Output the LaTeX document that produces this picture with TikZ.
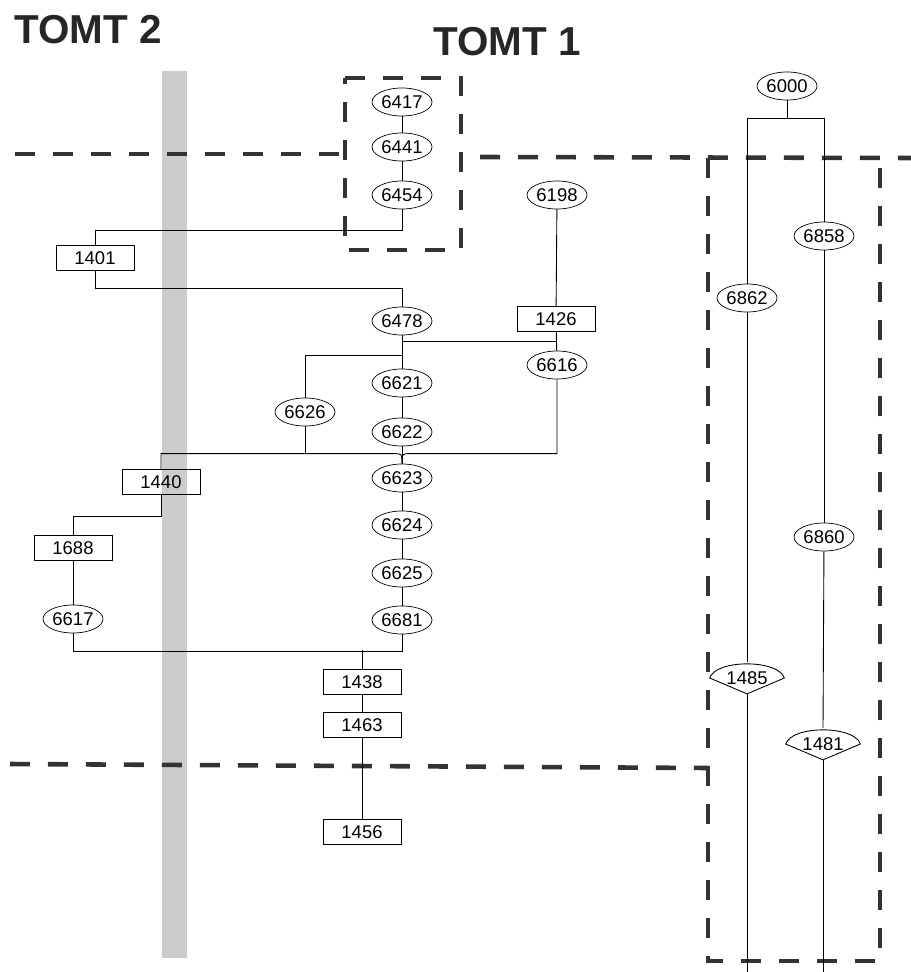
\documentclass[tikz,border=0pt]{standalone}
\usepackage{fontspec}
\setmainfont{Liberation Sans}
\usetikzlibrary{shapes.geometric,calc}

\begin{document}
\begin{tikzpicture}[x=0.02cm,y=-0.02cm,
  oval/.style={draw,ellipse,inner sep=0pt,minimum width=1.2cm,minimum height=0.56cm,font=\fontsize{10.5}{12}\selectfont},
  box/.style={draw,rectangle,inner sep=0pt,minimum width=1.56cm,minimum height=0.5cm,font=\fontsize{10.5}{12}\selectfont},
  fan/.style={inner sep=0pt,minimum width=1.48cm,minimum height=0.62cm,font=\fontsize{10.5}{12}\selectfont},
  bound/.style={line width=2.6pt,draw=black!80,dash pattern=on 0.4cm off 0.36cm},
  link/.style={line width=0.5pt},
  title/.style={font=\fontsize{23}{26}\selectfont\bfseries,text=black!85}]
\useasboundingbox (0,0) rectangle (911,972);
% stippled band
\fill[black!20] (162,71) rectangle (187,958);
\node[title] (t2) at (88,30) {TOMT 2};
\node[title] (t1) at (507,42) {TOMT 1};
% boundaries
\draw[bound] (15,154) -- (345,154);
\draw[bound] (345,78) -- (461,78) -- (461,250) -- (345,250) -- cycle;
\draw[bound] (480,157) -- (911,158);
\draw[bound] (708,158) -- (708,961) -- (880,961) -- (880,158);
\draw[bound] (10,764) -- (708,768);
% TOMT 1
\node[oval] (o6417) at (402,102) {6417};
\node[oval] (o6441) at (402,147) {6441};
\node[oval] (o6454) at (402,195) {6454};
\node[box] (b1401) at (95,258) {1401};
\node[oval] (o6198) at (557,195) {6198};
\node[oval] (o6478) at (402,321) {6478};
\node[box] (b1426) at (556,319) {1426};
\node[oval] (o6616) at (557,365) {6616};
\node[oval] (o6621) at (402,383) {6621};
\node[oval] (o6626) at (305,412) {6626};
\node[oval] (o6622) at (402,432) {6622};
\node[oval] (o6623) at (402,478) {6623};
\node[box] (b1440) at (161,482) {1440};
\node[oval] (o6624) at (402,525) {6624};
\node[box] (b1688) at (73,548) {1688};
\node[oval] (o6625) at (402,573) {6625};
\node[oval] (o6617) at (73,619) {6617};
\node[oval] (o6681) at (402,620) {6681};
\node[box] (b1438) at (362,682) {1438};
\node[box] (b1463) at (362,725) {1463};
\node[box] (b1456) at (362,832) {1456};
\coordinate (m) at ($(o6623.north)+(0,-10)$);
\begin{scope}[link]
\draw (o6417) -- (o6441);
\draw (o6441) -- (o6454);
\draw (o6454.south) -- ++(0,21) -| (b1401.north);
\draw (b1401.south) -- ++(0,18) -| (o6478.north);
\draw (o6198) -- (b1426);
\draw (o6478) -- (o6621);
\draw (b1426) -- (o6616);
\draw (b1426.south) ++(0,10) -| (o6478.south);
\draw (o6621.north) ++(0,-13) -| (o6626.north);
\draw (o6621) -- (o6622);
\draw (o6622) -- (o6623);
\draw (o6626.south) -- (o6626.south |- m);
\draw (b1440.north) |- ($(m)+(-8,0)$) .. controls (m) .. (o6623.north);
\draw (o6616.south) |- ($(m)+(8,0)$) .. controls (m) .. (o6623.north);
\draw (o6623) -- (o6624);
\draw (o6624) -- (o6625);
\draw (o6625) -- (o6681);
\draw (b1440.south) -- ++(0,22) -| (b1688.north);
\draw (b1688) -- (o6617);
\draw (o6617.south) -- ++(0,18) -| (o6681.south);
\draw (b1438.north) -- ++(0,-19);
\draw (b1438) -- (b1463);
\draw (b1463) -- (b1456);
\end{scope}
% the right column
\node[oval] (o6000) at (787,86) {6000};
\node[oval] (o6858) at (824,236) {6858};
\node[oval] (o6862) at (747,298) {6862};
\node[oval] (o6860) at (824,537) {6860};
\node[fan] (f1485) at (747,678) {1485};
\node[fan] (f1481) at (823,744) {1481};
\coordinate (e1485) at (747,972);
\coordinate (e1481) at (823,972);
\foreach \n in {f1485,f1481}
  \draw[link] (\n.west) .. controls ($(\n.north west)+(6,-3)$) and ($(\n.north east)+(-6,-3)$) .. (\n.east) -- (\n.south) -- cycle;
\begin{scope}[link]
\draw (o6000.south) -- ++(0,18) -| (o6862.north);
\draw (o6000.south) ++(0,18) -| (o6858.north);
\draw (o6862) -- (f1485);
\draw (f1485.south) -- (e1485);
\draw (o6858) -- (o6860);
\draw (o6860) -- (f1481.north);
\draw (f1481.south) -- (e1481);
\end{scope}
\end{tikzpicture}
\end{document}
